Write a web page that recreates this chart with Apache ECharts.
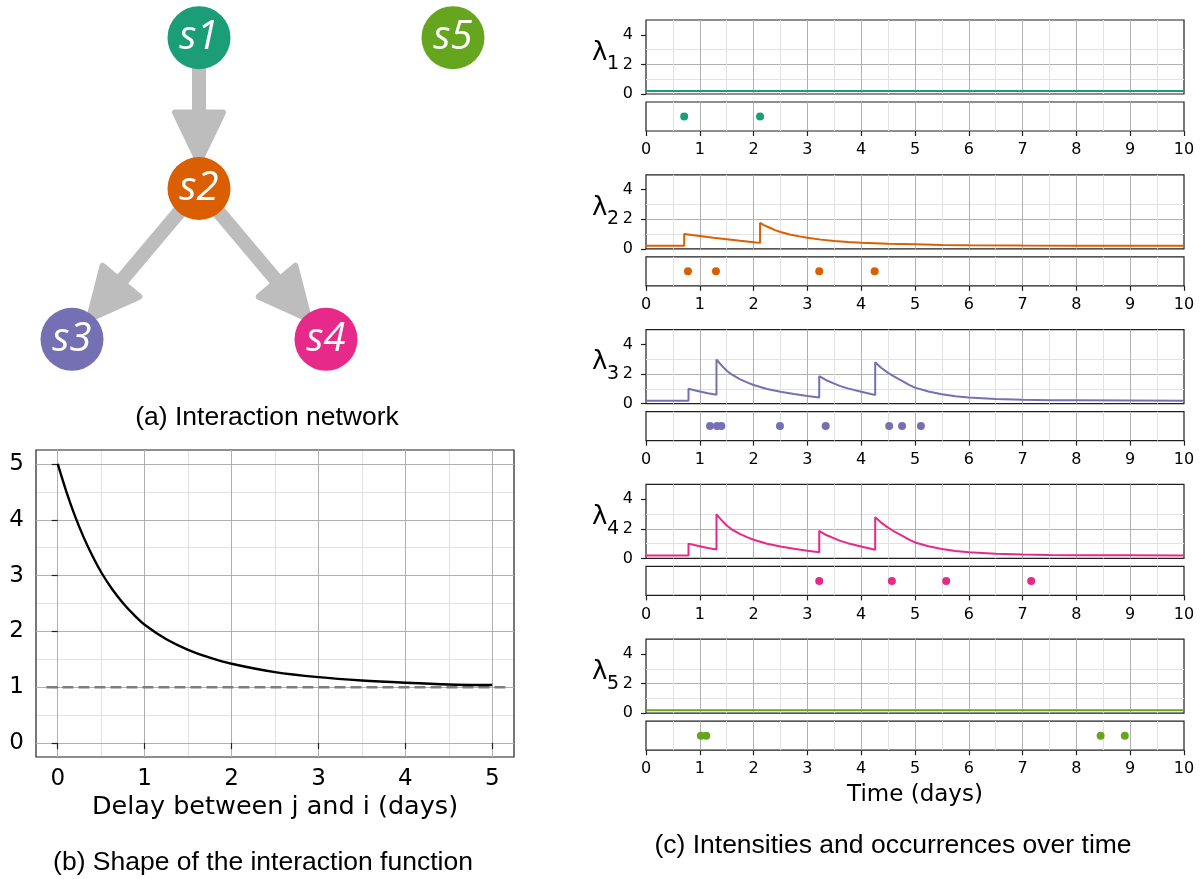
<!DOCTYPE html>
<html><head><meta charset="utf-8">
<script src="https://cdn.jsdelivr.net/npm/echarts@6/dist/echarts.min.js"></script>
<style>html,body{margin:0;padding:0;background:#fff}#c{width:1203px;height:879px}</style>
</head><body><div id="c"></div>
<script>
// ---------- (a) network ----------
const nodeNames = ['s1', 's2', 's3', 's4', 's5'];
const nodeX = [0, 0, -1, 1, 2];
const nodeY = [2, 1, 0, 0, 2];
const nodeColors = ['#1b9e77', '#d95f02', '#7570b3', '#e7298a', '#66a61e'];
const linkSource = [0, 1, 1];
const linkTarget = [1, 2, 3];

// ---------- (b) interaction function ----------
const delayDays = [0, 0.1, 0.2, 0.3, 0.4, 0.5, 0.625, 0.75, 0.875, 1, 1.25, 1.5, 1.75, 2, 2.5, 3, 3.5, 4, 4.5, 5];
const interactionValues = [5.0, 4.5, 4.06, 3.68, 3.35, 3.06, 2.76, 2.51, 2.3, 2.12, 1.86, 1.67, 1.53, 1.42, 1.27, 1.18, 1.12, 1.08, 1.05, 1.04];
const baselineLevel = 1;
const baselineSpan = [-0.13, 5.15];
const delayTicks = [0, 1, 2, 3, 4, 5];
const delayMinor = [0.5, 1.5, 2.5, 3.5, 4.5];
const valueTicks = [0, 1, 2, 3, 4, 5];
const valueMinor = [0.5, 1.5, 2.5, 3.5, 4.5];

// ---------- (c) intensities and occurrences ----------
const lambdaTicks = [0, 2, 4];
const lambdaNames = ['1', '2', '3', '4', '5'];
const lambda1 = [[0, 0.2], [10, 0.2]];
const lambda2 = [[0, 0.2], [0.71, 0.2], [0.71, 1.0], [0.85, 0.93], [1.0, 0.86], [1.25, 0.74], [1.5, 0.64], [1.75, 0.54], [2.0, 0.45], [2.12, 0.40],
  [2.12, 1.75], [2.2, 1.58], [2.3, 1.42], [2.4, 1.26], [2.5, 1.14], [2.67, 0.97], [2.85, 0.84], [3.0, 0.75], [3.25, 0.62], [3.5, 0.53], [3.75, 0.46],
  [4.0, 0.41], [4.5, 0.34], [5.0, 0.30], [5.5, 0.26], [6.0, 0.24], [7.0, 0.22], [8.0, 0.21], [9.0, 0.2], [10, 0.2]];
const lambda3 = [[0, 0.2], [0.79, 0.2], [0.79, 1.0], [0.9, 0.9], [1.0, 0.82], [1.15, 0.7], [1.31, 0.6],
  [1.31, 2.98], [1.4, 2.6], [1.5, 2.22], [1.6, 1.95], [1.75, 1.64], [1.9, 1.4], [2.0, 1.26], [2.25, 0.99], [2.5, 0.8], [2.75, 0.65], [3.0, 0.52], [3.22, 0.42],
  [3.22, 1.86], [3.35, 1.58], [3.5, 1.35], [3.6, 1.2], [3.75, 1.03], [4.0, 0.8], [4.1, 0.72], [4.26, 0.58],
  [4.26, 2.8], [4.37, 2.42], [4.5, 2.08], [4.6, 1.85], [4.75, 1.55], [4.9, 1.25], [5.0, 1.08], [5.25, 0.82], [5.5, 0.63], [5.75, 0.5], [6.0, 0.41],
  [6.5, 0.31], [7.0, 0.26], [7.5, 0.23], [8.0, 0.22], [9.0, 0.21], [10, 0.2]];
const lambda4 = [[0, 0.2], [0.79, 0.2], [0.79, 1.0], [0.9, 0.9], [1.0, 0.82], [1.15, 0.7], [1.31, 0.6],
  [1.31, 2.98], [1.4, 2.6], [1.5, 2.22], [1.6, 1.95], [1.75, 1.64], [1.9, 1.4], [2.0, 1.26], [2.25, 0.99], [2.5, 0.8], [2.75, 0.65], [3.0, 0.52], [3.22, 0.42],
  [3.22, 1.86], [3.35, 1.58], [3.5, 1.35], [3.6, 1.2], [3.75, 1.03], [4.0, 0.8], [4.1, 0.72], [4.26, 0.58],
  [4.26, 2.78], [4.37, 2.42], [4.5, 2.08], [4.6, 1.85], [4.75, 1.55], [4.9, 1.25], [5.0, 1.08], [5.25, 0.82], [5.5, 0.63], [5.75, 0.5], [6.0, 0.41],
  [6.5, 0.31], [7.0, 0.26], [7.5, 0.23], [8.0, 0.22], [9.0, 0.21], [10, 0.2]];
const lambda5 = [[0, 0.2], [10, 0.2]];
const events1 = [0.71, 2.12];
const events2 = [0.78, 1.30, 3.22, 4.25];
const events3 = [1.19, 1.32, 1.40, 2.49, 3.34, 4.52, 4.76, 5.11];
const events4 = [3.22, 4.57, 5.58, 7.16];
const events5 = [1.02, 1.12, 8.45, 8.90];

const lambdas = [lambda1, lambda2, lambda3, lambda4, lambda5];
const events = [events1, events2, events3, events4, events5];

// ---------- layout / style ----------
const FONT = 'DejaVu Sans';
const MAJOR = '#b0b0b0', MINOR = '#e2e2e2', SPINE = '#1f1f1f';
const PANEL_STEP = 154.8;

const grids = [], xAxes = [], yAxes = [], series = [], titles = [];

for (let k = 0; k < 5; k++) {
  grids.push({ left: 646, width: 538, top: 20 + PANEL_STEP * k, height: 74, show: true, borderColor: SPINE, borderWidth: 1.2, backgroundColor: 'transparent', outerBoundsMode: 'none' });
}
for (let k = 0; k < 5; k++) {
  grids.push({ left: 646, width: 538, top: 102 + PANEL_STEP * k, height: 29, show: true, borderColor: SPINE, borderWidth: 1.2, backgroundColor: 'transparent', outerBoundsMode: 'none' });
}
grids.push({ left: 36, top: 450, width: 478, height: 307, show: true, borderColor: SPINE, borderWidth: 1.2, backgroundColor: 'transparent', outerBoundsMode: 'none' });
grids.push({ left: 8.5, top: 7.5, width: 508, height: 362, show: false, outerBoundsMode: 'none' });

function timeAxis(gridIndex, withLabels, name) {
  return {
    type: 'value', gridIndex, min: 0, max: 10, interval: 1,
    axisLine: { show: false },
    axisTick: { show: withLabels, length: 5, lineStyle: { color: SPINE, width: 1.2 } },
    axisLabel: { show: withLabels, margin: 11, fontSize: 16, color: '#000', fontFamily: FONT, hideOverlap: false },
    splitLine: { show: true, showMinLine: false, showMaxLine: false, lineStyle: { color: MAJOR, width: 1 } },
    minorTick: { show: false, splitNumber: 2 },
    minorSplitLine: { show: true, lineStyle: { color: MINOR, width: 1 } },
    name: name || '', nameLocation: 'middle', nameGap: 33,
    nameTextStyle: { fontSize: 23, color: '#000', fontFamily: FONT }
  };
}
for (let k = 0; k < 5; k++) {
  xAxes.push(timeAxis(k, false));
  yAxes.push({
    type: 'value', gridIndex: k, min: 0, max: 5, interval: 2,
    axisLine: { show: false },
    axisTick: { show: true, length: 5, customValues: lambdaTicks, lineStyle: { color: SPINE, width: 1.2 } },
    axisLabel: { show: true, margin: 13, fontSize: 16, color: '#000', fontFamily: FONT, customValues: lambdaTicks },
    splitLine: { show: true, showMinLine: false, showMaxLine: false, lineStyle: { color: MAJOR, width: 1 } },
    minorTick: { show: false, splitNumber: 2 },
    minorSplitLine: { show: true, lineStyle: { color: MINOR, width: 1 } }
  });
}
for (let k = 0; k < 5; k++) {
  xAxes.push(timeAxis(5 + k, true, k === 4 ? 'Time (days)' : ''));
  yAxes.push({ type: 'value', gridIndex: 5 + k, min: 0, max: 2, show: false });
}
xAxes.push({
  type: 'value', gridIndex: 10, min: -0.25, max: 5.25,
  axisLine: { show: false },
  axisTick: { show: true, length: 6, customValues: delayTicks, lineStyle: { color: SPINE, width: 1.2 } },
  axisLabel: { show: true, margin: 11, fontSize: 23, color: '#000', fontFamily: FONT, customValues: delayTicks },
  splitLine: { show: true, lineStyle: { color: MAJOR, width: 1 } },
  name: 'Delay between j and i (days)', nameLocation: 'middle', nameGap: 37,
  nameTextStyle: { fontSize: 25.5, color: '#000', fontFamily: FONT }
});
yAxes.push({
  type: 'value', gridIndex: 10, min: -0.25, max: 5.25,
  axisLine: { show: false },
  axisTick: { show: true, length: 6, customValues: valueTicks, lineStyle: { color: SPINE, width: 1.2 } },
  axisLabel: { show: true, margin: 12, fontSize: 23, color: '#000', fontFamily: FONT, customValues: valueTicks },
  splitLine: { show: true, lineStyle: { color: MAJOR, width: 1 } }
});
xAxes.push({ type: 'value', gridIndex: 11, min: -1.5, max: 2.5, show: false });
yAxes.push({ type: 'value', gridIndex: 11, min: -0.2, max: 2.2, show: false });
xAxes.push({
  type: 'value', gridIndex: 10, min: -0.25, max: 5.25,
  axisLine: { show: false }, axisLabel: { show: false },
  axisTick: { show: false, customValues: delayMinor },
  splitLine: { show: true, lineStyle: { color: MINOR, width: 1 } }, z: -1
});
yAxes.push({
  type: 'value', gridIndex: 10, min: -0.25, max: 5.25,
  axisLine: { show: false }, axisLabel: { show: false },
  axisTick: { show: false, customValues: valueMinor },
  splitLine: { show: true, lineStyle: { color: MINOR, width: 1 } }, z: -1
});

for (let k = 0; k < 5; k++) {
  series.push({
    type: 'line', xAxisIndex: k, yAxisIndex: k, data: lambdas[k], showSymbol: false, symbol: 'none',
    lineStyle: { color: nodeColors[k], width: 2 }, animation: false, z: 3
  });
  series.push({
    type: 'scatter', xAxisIndex: 5 + k, yAxisIndex: 5 + k, data: events[k].map(t => [t, 1]),
    symbolSize: 8, itemStyle: { color: nodeColors[k], opacity: 1 }, animation: false, z: 3
  });
  titles.push({
    text: 'λ', left: 592, top: 40 + PANEL_STEP * k, padding: 0,
    textStyle: { fontSize: 26, fontFamily: FONT, fontWeight: 'normal', color: '#000' }
  });
  titles.push({
    text: lambdaNames[k], left: 607, top: 55 + PANEL_STEP * k, padding: 0,
    textStyle: { fontSize: 19, fontFamily: FONT, fontWeight: 'normal', color: '#000' }
  });
}
series.push({
  type: 'line', xAxisIndex: 10, yAxisIndex: 10, data: baselineSpan.map(x => [x, baselineLevel]), showSymbol: false, symbol: 'none',
  lineStyle: { color: '#7f7f7f', width: 2.5, type: [11, 5] }, animation: false, z: 2
});
series.push({
  type: 'line', xAxisIndex: 10, yAxisIndex: 10, data: delayDays.map((d, i) => [d, interactionValues[i]]), showSymbol: false, symbol: 'none',
  smooth: 0.3, lineStyle: { color: '#000', width: 2.4 }, animation: false, z: 3
});
const SHAFT_W = 14, HEAD_LEN = 50, HEAD_HW = 24, TIP_INSET = 26, EDGE_COLOR = '#bdbdbd';
series.push({
  type: 'custom', xAxisIndex: 11, yAxisIndex: 11, animation: false, z: 2,
  data: linkSource.map((s, i) => [nodeX[s], nodeY[s], i]),
  renderItem: function (params, api) {
    const i = api.value(2);
    const s = linkSource[i], t = linkTarget[i];
    const p0 = api.coord([nodeX[s], nodeY[s]]);
    const p1 = api.coord([nodeX[t], nodeY[t]]);
    const dx = p1[0] - p0[0], dy = p1[1] - p0[1];
    const L = Math.sqrt(dx * dx + dy * dy);
    const ux = dx / L, uy = dy / L, px = -uy, py = ux;
    const tip = [p1[0] - ux * TIP_INSET, p1[1] - uy * TIP_INSET];
    const base = [tip[0] - ux * HEAD_LEN, tip[1] - uy * HEAD_LEN];
    return {
      type: 'group', children: [
        { type: 'line', shape: { x1: p0[0], y1: p0[1], x2: base[0] + ux * 4, y2: base[1] + uy * 4 }, style: { stroke: EDGE_COLOR, lineWidth: SHAFT_W } },
        { type: 'polygon', shape: { points: [tip, [base[0] + px * HEAD_HW, base[1] + py * HEAD_HW], [base[0] - px * HEAD_HW, base[1] - py * HEAD_HW]] },
          style: { fill: EDGE_COLOR, stroke: EDGE_COLOR, lineWidth: 6, lineJoin: 'round' } }
      ]
    };
  }
});
series.push({
  type: 'scatter', xAxisIndex: 11, yAxisIndex: 11, animation: false, z: 4, symbolSize: 63,
  data: nodeNames.map((n, i) => ({ name: n, value: [nodeX[i], nodeY[i]], itemStyle: { color: nodeColors[i], opacity: 1 } })),
  label: { show: true, position: 'inside', formatter: '{b}', color: '#fff', fontSize: 40, fontStyle: 'italic', fontFamily: 'Open Sans' },
  emphasis: { disabled: true }
});

const captionFont = '26.5px "Liberation Sans", Arial, sans-serif';
function caption(text, x, y) {
  return { type: 'text', x: x, y: y, style: { text: text, font: captionFont, fill: '#000', align: 'center', verticalAlign: 'middle', textAlign: 'center', textVerticalAlign: 'middle' } };
}

const chart = echarts.init(document.getElementById('c'), null, { renderer: 'canvas' });
chart.setOption({
  backgroundColor: '#fff',
  animation: false,
  title: titles,
  grid: grids,
  xAxis: xAxes,
  yAxis: yAxes,
  series: series,
  graphic: [
    caption('(a) Interaction network', 267, 418),
    caption('(b) Shape of the interaction function', 263, 863),
    caption('(c) Intensities and occurrences over time', 893, 846)
  ]
});
</script></body></html>
